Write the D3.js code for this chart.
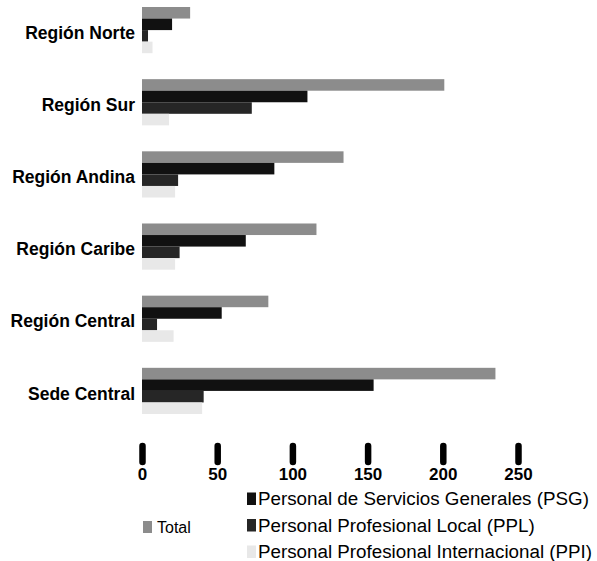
<!DOCTYPE html>
<html>
<head>
<meta charset="utf-8">
<script src="https://cdn.jsdelivr.net/npm/d3@7"></script>
<style>
  body { margin: 0; background: #fff; }
  svg { display: block; font-family: "Liberation Sans", Arial, sans-serif; }
</style>
</head>
<body>
<div id="chart"></div>
<script>
const categories = ["Región Norte", "Región Sur", "Región Andina", "Región Caribe", "Región Central", "Sede Central"];
const seriesNames = ["Total", "Personal de Servicios Generales (PSG)", "Personal Profesional Local (PPL)", "Personal Profesional Internacional (PPI)"];
const total = [32, 201, 134, 116, 84, 235];
const psg = [20, 110, 88, 69, 53, 154];
const ppl = [4, 73, 24, 25, 10, 41];
const ppi = [7, 18, 22, 22, 21, 40];
const xTicks = [0, 50, 100, 150, 200, 250];

const colors = ["#8c8c8c", "#111111", "#262626", "#e8e8e8"];

function drawChart() {
  const width = 597;
  const height = 561;
  const series = [total, psg, ppl, ppi];

  const svg = d3.select("#chart").append("svg")
    .attr("width", width)
    .attr("height", height);

  const xScale = d3.scaleLinear().domain([0, 250]).range([142, 518]);

  const yScale = d3.scaleBand()
    .domain(categories)
    .range([7, 414])
    .paddingInner(0.36)
    .paddingOuter(0);

  const subScale = d3.scaleBand()
    .domain(d3.range(series.length))
    .range([0, yScale.bandwidth()]);

  // bars, one group per region
  const groups = svg.selectAll(".group")
    .data(categories)
    .enter()
    .append("g")
    .attr("class", "group")
    .attr("transform", (d) => "translate(0," + yScale(d) + ")");

  groups.selectAll("rect")
    .data((d, i) => series.map((s, k) => ({ k: k, v: s[i] })))
    .enter()
    .append("rect")
    .attr("x", xScale(0))
    .attr("y", (d) => subScale(d.k))
    .attr("width", (d) => xScale(d.v) - xScale(0))
    .attr("height", subScale.bandwidth())
    .style("fill", (d) => colors[d.k]);

  // region labels
  svg.selectAll(".cat")
    .data(categories)
    .enter()
    .append("text")
    .attr("class", "cat")
    .attr("x", 135)
    .attr("y", (d) => yScale(d) + yScale.bandwidth() / 2 + 4)
    .attr("dominant-baseline", "middle")
    .style("text-anchor", "end")
    .style("font-size", "17.5px")
    .style("font-weight", "bold")
    .text((d) => d);

  // x axis: thick rounded ticks, no domain line
  const xAxis = d3.axisBottom(xScale).tickValues(xTicks).tickSize(16).tickPadding(6);
  const axisG = svg.append("g")
    .attr("transform", "translate(0,446)")
    .call(xAxis);
  axisG.select(".domain").remove();
  axisG.selectAll(".tick line")
    .style("stroke", "#000")
    .style("stroke-width", 6.5)
    .style("stroke-linecap", "round");
  axisG.selectAll(".tick text")
    .style("font-family", "'Liberation Sans', Arial, sans-serif")
    .style("font-size", "17px")
    .style("font-weight", "bold")
    .style("fill", "#000");

  // legend
  const legend = svg.append("g").attr("id", "legend");

  legend.append("rect")
    .attr("x", 143)
    .attr("y", 521)
    .attr("width", 9)
    .attr("height", 12)
    .style("fill", colors[0]);

  legend.append("text")
    .attr("x", 157)
    .attr("y", 533)
    .style("font-size", "16px")
    .text(seriesNames[0]);

  const items = [1, 2, 3];
  items.forEach((k, i) => {
    const baseY = 505 + i * 26.5;
    legend.append("rect")
      .attr("x", 247)
      .attr("y", baseY - 12.5)
      .attr("width", 9)
      .attr("height", 12.5)
      .style("fill", colors[k]);
    legend.append("text")
      .attr("x", 258)
      .attr("y", baseY)
      .style("font-size", "18.8px")
      .text(seriesNames[k]);
  });
}

drawChart();
</script>
</body>
</html>
